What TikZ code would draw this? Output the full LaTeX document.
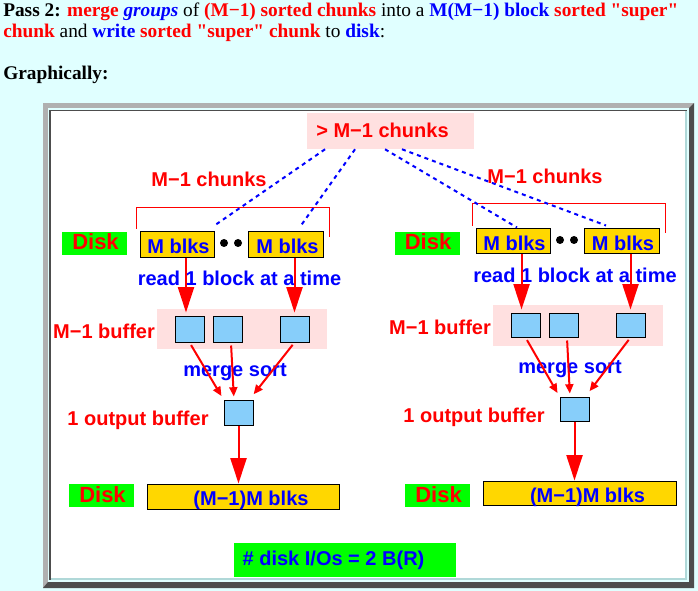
\documentclass[tikz,border=0pt]{standalone}
\usepackage{fontspec}
\setmainfont{Liberation Serif}[Ligatures=TeXOff]
\newfontfamily\hv{Liberation Sans}
\usetikzlibrary{arrows.meta,fit}
\definecolor{bgc}{HTML}{E0FFFF}
\definecolor{lgray}{HTML}{B0B0B0}
\definecolor{dgray}{HTML}{4D4D4D}
\definecolor{lline}{HTML}{B0D8D8}
\definecolor{pinkc}{HTML}{FFE0E0}
\definecolor{greenc}{HTML}{00FF00}
\definecolor{goldc}{HTML}{FFD700}
\definecolor{bluec}{HTML}{87CEFA}
\tikzset{
 hdr/.style={inner sep=0pt, anchor=base west, font=\fontsize{14.5}{16}\selectfont},
 lbl/.style={inner sep=0pt, anchor=base, font=\hv\bfseries\fontsize{15}{18}\selectfont},
 redlbl/.style={lbl, text=red},
 bluelbl/.style={lbl, text=blue},
 disklbl/.style={lbl, text=red, font=\hv\bfseries\fontsize{16.5}{19}\selectfont},
 pinkbox/.style={inner sep=0pt, fill=pinkc},
 greenbox/.style={inner sep=0pt, fill=greenc},
 blkbox/.style={inner sep=0pt, fill=goldc, draw=black, line width=0.75pt},
 bufbox/.style={inner sep=0pt, fill=bluec, draw=black, line width=0.75pt},
 dashline/.style={blue, line width=1.5pt, dash pattern=on 3pt off 3pt},
 bigarrow/.style={red, line width=1.5pt, -{Triangle[length=19pt,width=12pt]}},
 thinarrow/.style={red, line width=1.5pt, -{Triangle[length=7pt,width=6pt]}},
 bracket/.style={red, line width=0.75pt},
 blackdot/.style={circle, fill=black, inner sep=0pt, minimum size=6pt},
}
\begin{document}
\begin{tikzpicture}[x=0.75pt,y=-0.75pt]
\useasboundingbox (0,0) rectangle (698,591);
\fill[bgc] (0,0) rectangle (698,591);
% header
\node[hdr] (h1) at (3,17) {\textbf{Pass 2:} \textcolor{red}{\textbf{merge}} \textcolor{blue}{\textbf{\textit{groups}}} of \textcolor{red}{\textbf{(M−1) sorted chunks}} into a \textcolor{blue}{\textbf{M(M−1) block}} \textcolor{red}{\textbf{sorted "super"}}};
\node[hdr] (h2) at (3,38) {\textcolor{red}{\textbf{chunk}} and \textcolor{blue}{\textbf{write}} \textcolor{red}{\textbf{sorted "super" chunk}} to \textcolor{blue}{\textbf{disk}}:};
\node[hdr] (h3) at (3,80) {\textbf{Graphically:}};
% frame
\fill[lgray] (43,103) rectangle (694,588);
\fill[dgray] (694,103) -- (694,588) -- (43,588) -- (48,582) -- (689,582) -- (689,108) -- cycle;
\fill[bgc] (48,108) rectangle (689,582);
\fill[dgray] (49,109.7) rectangle (687.3,580);
\fill[lline] (51,111.3) rectangle (687.3,580);
\fill[white] (51,111.3) rectangle (685,577.7);
% top box
\node[pinkbox, fit={(307,113) (474,149)}] (top) {};
\node[redlbl] (topt) at (382.5,138) {> M−1 chunks};
% ---------- left ----------
\node[redlbl] (chL) at (209,187) {M−1 chunks};
\draw[bracket] (136,229) -- (136,208) -- (329,208) -- (329,237);
\node[greenbox, fit={(62,232) (127,255)}] (dL) {};
\node[disklbl] (dLt) at (95.5,249) {Disk};
\node[blkbox, fit={(140,232) (214,257)}] (mbL1) {};
\node[bluelbl] (mbL1t) at (178.5,253) {M blks};
\node[blackdot] (dotL1) at (224,243) {};
\node[blackdot] (dotL2) at (238,243) {};
\node[blkbox, fit={(248,232) (323,257)}] (mbL2) {};
\node[bluelbl] (mbL2t) at (287.5,253) {M blks};
\node[bluelbl] (rdL) at (239.5,285) {read 1 block at a time};
\node[pinkbox, fit={(157,309) (327,349)}] (bufL) {};
\node[bufbox, fit={(175,316) (204,342)}] (sqL1) {};
\node[bufbox, fit={(213,316) (242,342)}] (sqL2) {};
\node[bufbox, fit={(280,316) (309,342)}] (sqL3) {};
\node[redlbl] (bufLt) at (104,338) {M−1 buffer};
\node[bluelbl] (msL) at (235,376) {merge sort};
\node[bufbox, fit={(224,400) (253,425)}] (outL) {};
\node[redlbl] (outLt) at (138,425) {1 output buffer};
\node[greenbox, fit={(69,484) (134,507)}] (dL2) {};
\node[disklbl] (dL2t) at (102.5,502) {Disk};
\node[blkbox, fit={(147,484) (339,509)}] (bigL) {};
\node[bluelbl] (bigLt) at (251,505) {(M−1)M blks};
% ---------- right ----------
\node[redlbl] (chR) at (545,184) {M−1 chunks};
\draw[bracket] (472,226) -- (472,204) -- (665,204) -- (665,233);
\node[greenbox, fit={(395,232) (460,255)}] (dR) {};
\node[disklbl] (dRt) at (428,249) {Disk};
\node[blkbox, fit={(476,229) (550,254)}] (mbR1) {};
\node[bluelbl] (mbR1t) at (514.5,250) {M blks};
\node[blackdot] (dotR1) at (560,240) {};
\node[blackdot] (dotR2) at (574,240) {};
\node[blkbox, fit={(584,229) (659,254)}] (mbR2) {};
\node[bluelbl] (mbR2t) at (623,250) {M blks};
\node[bluelbl] (rdR) at (575,282) {read 1 block at a time};
\node[pinkbox, fit={(493,305) (663,346)}] (bufR) {};
\node[bufbox, fit={(511,313) (540,337)}] (sqR1) {};
\node[bufbox, fit={(549,313) (578,337)}] (sqR2) {};
\node[bufbox, fit={(616,313) (645,337)}] (sqR3) {};
\node[redlbl] (bufRt) at (440,334) {M−1 buffer};
\node[bluelbl] (msR) at (570,373) {merge sort};
\node[bufbox, fit={(560,397) (589,421)}] (outR) {};
\node[redlbl] (outRt) at (474,422) {1 output buffer};
\node[greenbox, fit={(405,484) (470,507)}] (dR2) {};
\node[disklbl] (dR2t) at (438.5,502) {Disk};
\node[blkbox, fit={(483,481) (676,505)}] (bigR) {};
\node[bluelbl] (bigRt) at (587.5,502) {(M−1)M blks};
% bottom
\node[greenbox, fit={(234,543) (456,577)}] (io) {};
\node[bluelbl] (iot) at (333.5,565) {\# disk I/Os = 2 B(R)};
% dashed connectors
\draw[dashline] ([xshift=-49.1pt]top.south) -- ([yshift=4.5pt]mbL1.north east);
\draw[dashline] ([xshift=-26.6pt]top.south) -- ([xshift=11.6pt,yshift=4.5pt]mbL2.north);
\draw[dashline] ([xshift=-4.1pt]top.south) -- ([xshift=3pt,yshift=0.75pt]mbR1.north);
\draw[dashline] ([xshift=8.6pt]top.south) -- ([xshift=-11.6pt,yshift=2.25pt]mbR2.north);
% big arrows
\coordinate (aL1) at ([xshift=6.75pt]mbL1.south);
\draw[bigarrow, shorten >=2.25pt] (aL1) -- (aL1 |- sqL1.north);
\draw[bigarrow, shorten >=2.25pt] (sqL3.north |- mbL2.south) -- (sqL3.north);
\coordinate (aR1) at ([xshift=6.4pt]mbR1.south);
\draw[bigarrow, shorten >=2.25pt] (aR1) -- (aR1 |- sqR1.north);
\draw[bigarrow, shorten >=2.25pt] (sqR3.north |- mbR2.south) -- (sqR3.north);
% merge arrows
\draw[thinarrow, shorten <=2.25pt, shorten >=3pt] (sqL1.south) -- (outL.north west);
\draw[thinarrow, shorten <=2.25pt, shorten >=2.25pt] ([xshift=2.6pt]sqL2.south) -- ([xshift=-3.4pt]outL.north);
\draw[thinarrow, shorten <=2.25pt, shorten >=5pt] (sqL3.south) -- ([xshift=-3pt]outL.north east);
\draw[thinarrow, shorten <=2.25pt, shorten >=3pt] (sqR1.south) -- (outR.north west);
\draw[thinarrow, shorten <=2.25pt, shorten >=2.25pt] ([xshift=2.6pt]sqR2.south) -- ([xshift=-3.4pt]outR.north);
\draw[thinarrow, shorten <=2.25pt, shorten >=5pt] (sqR3.south) -- ([xshift=-3pt]outR.north east);
% output arrows
\draw[bigarrow] (outL.south) -- (outL.south |- bigL.north);
\draw[bigarrow] (outR.south) -- (outR.south |- bigR.north);
\end{tikzpicture}
\end{document}
